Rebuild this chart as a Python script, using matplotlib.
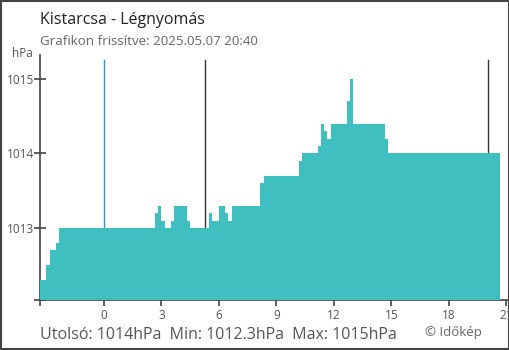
import numpy as np
import matplotlib
matplotlib.use("Agg")
import matplotlib.pyplot as plt
from matplotlib.patches import Rectangle

plt.rcParams["font.family"] = ["Open Sans", "DejaVu Sans"]

# pressure every 10 minutes, 2025.05.06 20:40 -> 2025.05.07 20:40 (hours from midnight)
start_hour = -20 / 6
step_hour = 1 / 6
pressure = [
    1012.3, 1012.3, 1012.5, 1012.7, 1012.7, 1012.8,
    1013.0, 1013.0, 1013.0, 1013.0, 1013.0, 1013.0,
    1013.0, 1013.0, 1013.0, 1013.0, 1013.0, 1013.0,
    1013.0, 1013.0, 1013.0, 1013.0, 1013.0, 1013.0,
    1013.0, 1013.0, 1013.0, 1013.0, 1013.0, 1013.0,
    1013.0, 1013.0, 1013.0, 1013.0, 1013.0, 1013.0,
    1013.2, 1013.3, 1013.1, 1013.0, 1013.0, 1013.1,
    1013.3, 1013.3, 1013.3, 1013.3, 1013.1, 1013.0,
    1013.0, 1013.0, 1013.0, 1013.0, 1013.0, 1013.2,
    1013.1, 1013.1, 1013.3, 1013.3, 1013.2, 1013.1,
    1013.3, 1013.3, 1013.3, 1013.3, 1013.3, 1013.3,
    1013.3, 1013.3, 1013.3, 1013.6, 1013.7, 1013.7,
    1013.7, 1013.7, 1013.7, 1013.7, 1013.7, 1013.7,
    1013.7, 1013.7, 1013.7, 1013.9, 1014.0, 1014.0,
    1014.0, 1014.0, 1014.0, 1014.1, 1014.4, 1014.3,
    1014.2, 1014.4, 1014.4, 1014.4, 1014.4, 1014.4,
    1014.7, 1015.0, 1014.4, 1014.4, 1014.4, 1014.4,
    1014.4, 1014.4, 1014.4, 1014.4, 1014.4, 1014.4,
    1014.2, 1014.0, 1014.0, 1014.0, 1014.0, 1014.0,
    1014.0, 1014.0, 1014.0, 1014.0, 1014.0, 1014.0,
    1014.0, 1014.0, 1014.0, 1014.0, 1014.0, 1014.0,
    1014.0, 1014.0, 1014.0, 1014.0, 1014.0, 1014.0,
    1014.0, 1014.0, 1014.0, 1014.0, 1014.0, 1014.0,
    1014.0, 1014.0, 1014.0, 1014.0, 1014.0, 1014.0,
    1014.0,
]
hour_ticks = [0, 3, 6, 9, 12, 15, 18, 21]
pressure_ticks = [1013, 1014, 1015]
sunrise = 5 + 16 / 60
sunset = 20 + 4 / 60

title = "Kistarcsa - Légnyomás"
subtitle = "Grafikon frissítve: 2025.05.07 20:40"
summary = "Utolsó: 1014hPa  Min: 1012.3hPa  Max: 1015hPa"

t = start_hour + step_hour * np.arange(len(pressure))
ybot, ytop = 1012.034, 1015.32

fig = plt.figure(figsize=(5.1, 3.5), dpi=100)
ax = fig.add_axes([40 / 510, 50 / 350, 470 / 510, 245 / 350])

ax.fill_between(t, pressure, ybot, step="post", color="#40bfc1", lw=0, zorder=3)
ax.axvline(0, ymax=0.98, color="#3d8fcf", lw=1, zorder=1)
ax.axvline(sunrise, ymax=0.98, color="#333333", lw=1, zorder=1)
ax.axvline(sunset, ymax=0.98, color="#333333", lw=1, zorder=1)

ax.set_xlim(start_hour, 21.2)
ax.set_ylim(ybot, ytop)
for s in ["top", "right"]:
    ax.spines[s].set_visible(False)
for s in ["left", "bottom"]:
    ax.spines[s].set_color("#444444")
    ax.spines[s].set_linewidth(1.2)

ax.set_xticks([start_hour] + hour_ticks)
ax.set_xticklabels([""] + [str(h) for h in hour_ticks])
ax.set_yticks([ybot] + pressure_ticks)
ax.set_yticklabels([""] + [str(p) for p in pressure_ticks])
ax.tick_params(axis="x", direction="out", length=4.5, width=1.2, color="#444444",
               labelsize=8.5, labelcolor="#555555", pad=2)
ax.tick_params(axis="y", direction="inout", length=9, width=1.2, color="#444444",
               labelsize=8.5, labelcolor="#555555", pad=0)
ax.xaxis.get_major_ticks()[1].tick1line.set_color("#3d8fcf")

fig.text(40 / 510, 1 - 24 / 350, title, fontsize=11.5, color="#222222", va="baseline")
fig.text(40 / 510, 1 - 45 / 350, subtitle, fontsize=9.6, color="#666666", va="baseline")
fig.text(12 / 510, 1 - 57 / 350, "hPa", fontsize=8.5, color="#555555", va="baseline")
fig.text(40 / 510, 1 - 339 / 350, summary, fontsize=11.5, color="#555555", va="baseline")
fig.text(425 / 510, 1 - 336 / 350, "© Időkép", fontsize=9.5, color="#666666", va="baseline")

fig.patches.append(Rectangle((0.001, 0.002), 0.997, 0.996, transform=fig.transFigure,
                             fill=False, edgecolor="#444444", lw=1.5))

fig.savefig("out.png", dpi=100)
